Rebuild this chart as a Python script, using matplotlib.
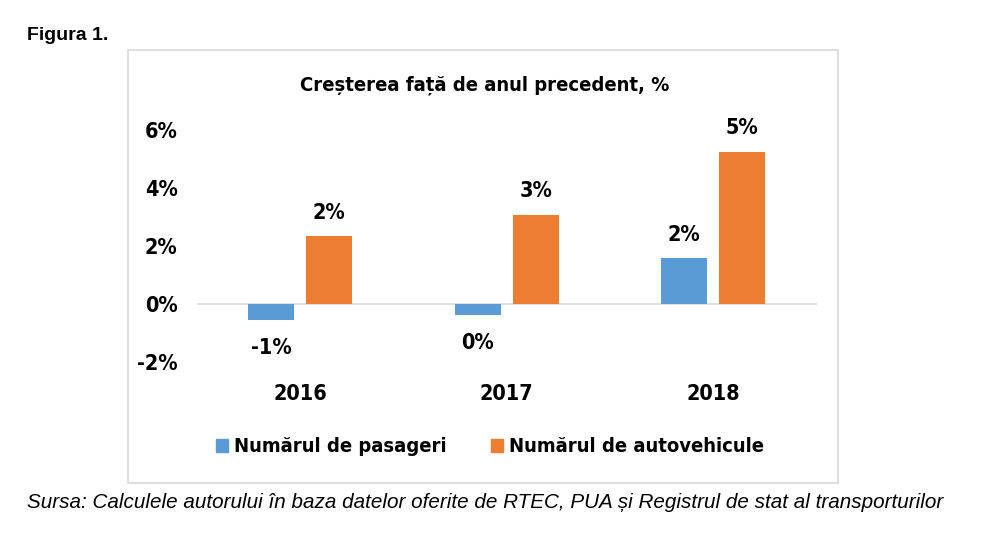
import numpy as np
import matplotlib.pyplot as plt
from matplotlib.patches import Rectangle, Patch

years = ["2016", "2017", "2018"]
pasageri = [-0.56, -0.38, 1.57]
autovehicule = [2.33, 3.07, 5.23]
lab_pas = ["-1%", "0%", "2%"]
lab_auto = ["2%", "3%", "5%"]
yticks = [-2, 0, 2, 4, 6]

c_blue = "#5B9BD5"
c_orange = "#ED7D31"
cfont = dict(family="DejaVu Sans", stretch="condensed", weight="bold")

fig = plt.figure(figsize=(10, 5.51), dpi=100)

# chart frame
fig.patches.append(Rectangle((0.128, 1 - 483 / 551), 0.710, (483 - 50) / 551,
                             transform=fig.transFigure, fill=False,
                             edgecolor="#D9D9D9", lw=1.2))

ax = fig.add_axes([0.197, 1 - 362 / 551, 0.6195, 232 / 551])
x = np.arange(len(years))
w = 0.223
b1 = ax.bar(x - 0.14, pasageri, w, color=c_blue)
b2 = ax.bar(x + 0.14, autovehicule, w, color=c_orange)

for rect, lab in zip(b1, lab_pas):
    h = rect.get_height()
    off = 10 if h >= 0 else -13
    ax.annotate(lab, (rect.get_x() + rect.get_width() / 2, h),
                xytext=(0, off), textcoords="offset points",
                ha="center", va="bottom" if h >= 0 else "top",
                fontsize=15.5, annotation_clip=False, **cfont)
for rect, lab in zip(b2, lab_auto):
    h = rect.get_height()
    ax.annotate(lab, (rect.get_x() + rect.get_width() / 2, h),
                xytext=(0, 10), textcoords="offset points",
                ha="center", va="bottom",
                fontsize=15.5, annotation_clip=False, **cfont)

ax.set_xlim(-0.5, 2.5)
ax.set_ylim(-2, 6)
ax.set_yticks(yticks)
ax.set_yticklabels([f"{t}%" for t in yticks], fontsize=15.5, **cfont)
ax.set_xticks(x)
ax.set_xticklabels(years, fontsize=15.5, **cfont)
ax.tick_params(axis="y", length=0, pad=14)
ax.tick_params(axis="x", length=0, pad=16)
for s in ["top", "right", "left", "bottom"]:
    ax.spines[s].set_visible(False)
ax.axhline(0, color="#D9D9D9", lw=1.2, zorder=0)

fig.text(0.485, 1 - 85 / 551, "Creșterea față de anul precedent, %", ha="center", va="center",
         fontsize=14.5, **cfont)

handles = [Patch(color=c_blue), Patch(color=c_orange)]
fig.legend(handles, ["Numărul de pasageri", "Numărul de autovehicule"],
           loc="center", bbox_to_anchor=(0.49, 1 - 447 / 551), ncol=2, frameon=False,
           prop={"family": "DejaVu Sans", "stretch": "condensed", "weight": "bold", "size": 14.5},
           handlelength=0.6, handleheight=0.6, handletextpad=0.3, columnspacing=2.2)

fig.text(0.027, 1 - 35 / 551, "Figura 1.", ha="left", va="center",
         fontsize=14, fontweight="bold", family="Liberation Sans")
fig.text(0.027, 1 - 502 / 551,
         "Sursa: Calculele autorului în baza datelor oferite de RTEC, PUA și Registrul de stat al transporturilor",
         ha="left", va="center", fontsize=14.9, style="italic", family="Liberation Sans")

fig.savefig("out.png", dpi=100, facecolor="white")
